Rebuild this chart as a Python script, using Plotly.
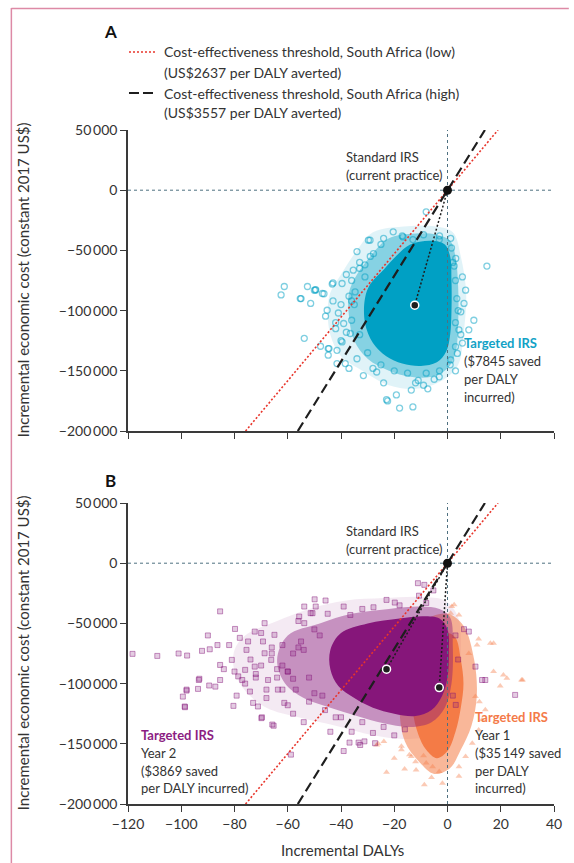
import plotly.graph_objects as go

# ---------------- data ----------------
THRESH_LOW = 2637    # US$ per DALY averted
THRESH_HIGH = 3557

x_ticks = [-120, -100, -80, -60, -40, -20, 0, 20, 40]
x_ticktext = ["−120", "−100", "−80", "−60", "−40", "−20", "0", "20", "40"]
y_ticks = [50000, 0, -50000, -100000, -150000, -200000]
y_ticktext = ["50\u2009000", "0", "−50\u2009000", "−100\u2009000", "−150\u2009000", "−200\u2009000"]

# Panel A: targeted IRS (cost in US$ thousands)
a_mean_x = [-12.3]
a_mean_y_k = [-95.5]
a_outer_x = [-28, -15, -5, 2, 5, 7, 6, 4, -2, -12, -22, -32, -40, -44, -45, -44, -40, -34]
a_outer_y_k = [-35, -30, -30, -35, -55, -85, -120, -145, -158, -165, -162, -150, -138, -120, -100, -85, -70, -50]
a_mid_x = [-22, -12, -4, 1, 3, 4, 4, 3, 0, -6, -14, -22, -30, -35, -37, -37, -34, -29]
a_mid_y_k = [-40, -36, -37, -42, -55, -80, -110, -135, -148, -155, -155, -150, -140, -125, -105, -85, -70, -55]
a_core_x = [-14, -6, -1, 1, 1.5, 1.5, 1, -0.5, -4, -10, -17, -23, -28, -31, -31, -29, -24, -19]
a_core_y_k = [-45, -42, -45, -55, -75, -100, -120, -134, -143, -146, -144, -138, -127, -110, -90, -78, -66, -54]
a_pts_x = [-8.0, -20.4, -29.7, 1.2, 14.8, -34, -52.6, -49.6, -55, -51.4, -53.8, -47, -43.3, 5.6, 6.2,
           9.9, 4.3, 1.2, -3.1, -7.4, -13, -18, -22.9, -19.2, -13.6, -31.6, -26.6, -38.4, -41.5, -44.5,
           -36.5, 5.6, 3.7, 3.1, 2.5, 6.8, 8, -16.7, -13, -3.1, -61.3, -62.5, -49.5, -55.3, -46.4,
           -43, -45.8, -47.7, -44.8, -44.8, -41.5, -22.5, -39, -39.6, -34.7, -35.4, -29.1, -27.8,
           -39.6, -45.2, -50, -33, -24, -37, 3, 5, -9, -31, -42, -36,
           -35, -37, -36, -33, -38, -30, -25, -20, -15, -8, -3, 1, 3, 3, 3.5, 3, 2, 1.5, -3, -9,
           -17, -25, -29, -33, -36, -40, -42, -40, -34, -28, -11, -5, 4, 5, -24, -31, -38, -43, -41, -12]
a_pts_y_k = [-18, -34.6, -41.5, -40, -63, -51, -80, -83, -90, -94, -123, -85.8, -78, -72, -94,
             -108, -116, -141, -155, -165, -180, -181, -174, -170, -166, -154, -151, -144, -133, -131.5,
             -119, -127, -135.6, -56.7, -63, -83, -116, -38.8, -41, -41, -80, -87, -82.5, -90, -86,
             -77, -104.6, -129.6, -131.5, -137, -144, -175, -110.7, -126, -84.5, -66.4, -41.5, -52.6,
             -77.5, -99.7, -83, -60, -160, -148, -150, -101, -162, -72, -115, -92,
             -95, -88, -108, -120, -118, -135, -145, -150, -152, -152, -150, -145, -130, -110, -90, -75, -60, -48, -38, -37,
             -38, -45, -55, -65, -75, -95, -110, -125, -140, -148, -158, -157, -100, -120, -40, -62, -70, -92, -102, -160]

# Panel B: targeted IRS year 2 (purple) and year 1 (orange)
b2_mean_x = [-22.9]
b2_mean_y_k = [-88]
b1_mean_x = [-3.1]
b1_mean_y_k = [-103.3]

b2_outer_x = [-76, -64, -52, -38, -24, -10, -1, 4, 5, 4, 1, -5, -16, -28, -42, -56, -68, -76, -80, -80]
b2_outer_y_k = [-60, -48, -38, -31, -29, -28, -31, -45, -75, -105, -125, -142, -146, -143, -135, -128, -120, -106, -90, -72]
b2_mid_x = [-60, -48, -36, -22, -10, -3, 1, 2, 1.5, -1, -6, -14, -24, -34, -44, -54, -61, -64]
b2_mid_y_k = [-60, -50, -42, -38, -36, -38, -45, -70, -100, -120, -132, -136, -133, -127, -120, -112, -100, -80]
b2_core_x = [-40, -30, -18, -9, -3, 0, 0.5, 0, -2, -6, -12, -20, -28, -35, -41, -44, -44]
b2_core_y_k = [-58, -50, -46, -44, -46, -55, -75, -95, -110, -122, -127, -125, -120, -112, -102, -88, -72]
b2_pts_x = [-118.3, -109, -101, -97.8, -92.2, -89.3, -86.4, -85.4, -99.4, -98, -98.7, -93.7, -93.2,
            -89.5, -87.2, -85.4, -85.4, -81, -79.8, -80.4, -79.2, -77.1, -76, -75.5, -74.9, -72.4,
            -74.2, -73, -69.3, -69.7, -68.7, -67.4, -65.8, -58.8, -55.7, -65, -72.4, -78.6, -71.2,
            -61.3, -63.7, -66.2, -68.7, -98.6, -98, -93.4, -69.9, -65.3, -51.4, -49.5, -39, -32.8,
            -27.2, -44, -53.8, -49.9, -45.8, -39, -36.5, -27.8, -22.9, -19.8, -11.1, -8.7, -36.8,
            -33.4, -31.2, -53.8, -50.7, -10.7, -5.3, 6.2, 8, 10.5, 25.4, 13, 3.1, 14.2, -60, -56,
            -62, -58, -54, -84, -90,
            -50, -55, -58, -60, -57, -52, -46, -40, -32, -24, -16, -62, -64, -56, -45, -32, -18, -8,
            -48, -52, -50, -66, -70, -68, -72, -60, 3, 4, 2,
            -82, -78, -74, -70, -66, -62, -76, -72, -68, -64, -80, -58, -54, -47, -42, -36, -28, -20]
b2_pts_y_k = [-75.3, -77, -75, -76.7, -72.8, -71.5, -68, -40, -110.8, -105, -119, -104.4, -96,
              -101.6, -102.5, -84.5, -97, -80.3, -54.6, -118.5, -110, -97, -88.6, -72, -65, -56.8,
              -106.6, -116, -65, -128, -49.8, -97, -134, -159, -44.3, -59.5, -85.9, -94, -119,
              -116, -105, -80.3, -74.8, -119.6, -105.8, -97, -128.7, -135, -41.5, -36, -156, -151,
              -149.5, -140, -36, -30, -31, -36, -43, -36.6, -30.5, -32.7, -16.6, -18, -149,
              -149, -148, -49.8, -41.5, -27, -22.6, -54.8, -56.8, -85.9, -109.4, -97, -117.7, -97, -90, -70,
              -105, -125, -132, -88, -60,
              -55, -65, -75, -90, -105, -115, -122, -128, -132, -136, -138, -85, -95, -48, -42, -38, -35, -33,
              -60, -95, -108, -70, -85, -105, -95, -118, -60, -80, -110,
              -68, -62, -80, -58, -75, -68, -100, -92, -112, -88, -90, -96, -72, -110, -128, -140, -141, -143]

b1_mid_x = [-10, 0, 6, 10, 11, 9, 5, 1, -5, -11, -16, -18, -16]
b1_mid_y_k = [-50, -42, -52, -80, -110, -135, -155, -170, -175, -164, -148, -120, -85]
b1_core_x = [-6, 0, 3, 5, 6, 5, 3, 0, -4, -8, -11, -13, -12]
b1_core_y_k = [-70, -58, -62, -80, -100, -120, -140, -156, -162, -155, -142, -122, -95]
b1_pts_x = [11.7, 16.1, 21, 28.2, 19.8, 17.3, 1.6, 4.3, -22.9, -8.7, -1.9, 4.3, -16.1, -26.6, -17.3,
            -13.6, -5.6, -26, -17.3, -14.3, -12, -9, -23.9, 17.3, 11.1, 27.8, 22.3, 2.5, 1.2, 14.2,
            -8, -3.1, -11.8, 4.3, 6.8, 9.3, 11.7, 13, 10.5, -20, 8, 12, -6]
b1_pts_y_k = [-63, -66.5, -92.8, -97, -101.9, -90, -36, -43, -173.6, -184, -182.7, -177, -171, -151, -152,
              -160.6, -169, -150, -155, -159, -165, -160, -148, -66.5, -67.9, -97, -95.5, -34.6, -41.5, -121.8,
              -166, -173, -171.7, -169, -160.6, -149.5, -138.5, -130, -110.8, -162, -75, -115, -178]

# ---------------- styling ----------------
FONT = "Lato, 'Open Sans', sans-serif"
TXT = "#333333"
TEAL = (0, 160, 196)
PURPLE = (134, 22, 122)
ORANGE = (244, 123, 70)
REF = "#4e7080"


def rgba(c, a):
    return f"rgba({c[0]},{c[1]},{c[2]},{a})"


def k(vals):
    return [v * 1000 for v in vals]


def px(xp):  # page pixel -> paper (x)
    return (xp - 128) / 431


def py(yp):  # page pixel -> paper (y)
    return (804 - yp) / 674


fig = go.Figure()


def poly(xs, ys_k, color, alpha, xa, ya):
    fig.add_trace(go.Scatter(x=xs + xs[:1], y=k(ys_k + ys_k[:1]), mode="lines", fill="toself",
                             fillcolor=rgba(color, alpha), line=dict(width=0), line_shape="spline",
                             hoverinfo="skip", showlegend=False, xaxis=xa, yaxis=ya))


def reference_lines(xa, ya):
    fig.add_trace(go.Scatter(x=[-120, 40], y=[0, 0], mode="lines",
                             line=dict(color=REF, width=1, dash="3px,3px"),
                             showlegend=False, xaxis=xa, yaxis=ya, hoverinfo="skip"))
    fig.add_trace(go.Scatter(x=[0, 0], y=[-200000, 50000], mode="lines",
                             line=dict(color=REF, width=1, dash="3px,3px"),
                             showlegend=False, xaxis=xa, yaxis=ya, hoverinfo="skip"))
    fig.add_trace(go.Scatter(x=[-200000 / THRESH_LOW, 50000 / THRESH_LOW], y=[-200000, 50000], mode="lines",
                             line=dict(color="#e8352b", width=1.6, dash="2px,2px"),
                             showlegend=False, xaxis=xa, yaxis=ya, hoverinfo="skip"))
    fig.add_trace(go.Scatter(x=[-200000 / THRESH_HIGH, 50000 / THRESH_HIGH], y=[-200000, 50000], mode="lines",
                             line=dict(color="#1e1e1e", width=2.2, dash="10px,5px"),
                             showlegend=False, xaxis=xa, yaxis=ya, hoverinfo="skip"))


def mean_point(mx, my_k, xa, ya):
    fig.add_trace(go.Scatter(x=[0] + mx, y=[0] + k(my_k), mode="lines",
                             line=dict(color="#1e1e1e", width=1.5, dash="2px,2px"),
                             showlegend=False, xaxis=xa, yaxis=ya, hoverinfo="skip"))
    fig.add_trace(go.Scatter(x=mx, y=k(my_k), mode="markers",
                             marker=dict(size=8, color="#1e1e1e", line=dict(color="white", width=1.5)),
                             showlegend=False, xaxis=xa, yaxis=ya))


def origin(xa, ya):
    fig.add_trace(go.Scatter(x=[0], y=[0], mode="markers", marker=dict(size=9, color="#111111"),
                             showlegend=False, xaxis=xa, yaxis=ya, cliponaxis=False))


# ---- Panel A ----
poly(a_outer_x, a_outer_y_k, TEAL, 0.12, "x", "y")
poly(a_mid_x, a_mid_y_k, TEAL, 0.4, "x", "y")
poly(a_core_x, a_core_y_k, TEAL, 1.0, "x", "y")
fig.add_trace(go.Scatter(x=a_pts_x, y=k(a_pts_y_k), mode="markers",
                         marker=dict(symbol="circle-open", size=6, color=rgba(TEAL, 0.5), line=dict(width=1.3)),
                         showlegend=False, xaxis="x", yaxis="y"))
reference_lines("x", "y")
mean_point(a_mean_x, a_mean_y_k, "x", "y")
origin("x", "y")

# ---- Panel B ----
poly(b2_outer_x, b2_outer_y_k, PURPLE, 0.09, "x2", "y2")
poly(b1_mid_x, b1_mid_y_k, ORANGE, 0.55, "x2", "y2")
poly(b1_core_x, b1_core_y_k, ORANGE, 1.0, "x2", "y2")
fig.add_trace(go.Scatter(x=b1_pts_x, y=k(b1_pts_y_k), mode="markers",
                         marker=dict(symbol="triangle-up", size=6, color=rgba(ORANGE, 0.4)),
                         showlegend=False, xaxis="x2", yaxis="y2"))
poly(b2_mid_x, b2_mid_y_k, PURPLE, 0.42, "x2", "y2")
poly(b2_core_x, b2_core_y_k, PURPLE, 1.0, "x2", "y2")
fig.add_trace(go.Scatter(x=b2_pts_x, y=k(b2_pts_y_k), mode="markers",
                         marker=dict(symbol="square", size=5, color=rgba(PURPLE, 0.22),
                                     line=dict(color=rgba(PURPLE, 0.45), width=1)),
                         showlegend=False, xaxis="x2", yaxis="y2"))
reference_lines("x2", "y2")
mean_point(b2_mean_x, b2_mean_y_k, "x2", "y2")
mean_point(b1_mean_x, b1_mean_y_k, "x2", "y2")
origin("x2", "y2")

axis_common = dict(showgrid=False, zeroline=False, showline=True, linecolor="#3a3a3a", linewidth=1.5,
                   ticks="outside", ticklen=6, tickwidth=1.3, tickcolor="#3a3a3a",
                   tickfont=dict(family=FONT, size=14, color=TXT))

fig.update_layout(
    width=574, height=863,
    margin=dict(l=128, r=15, t=130, b=59),
    paper_bgcolor="white", plot_bgcolor="white",
    font=dict(family=FONT, color=TXT),
    showlegend=False,
    hovermode=False,
    xaxis=dict(domain=[0, 1], range=[-120, 40], anchor="y", tickvals=x_ticks, showticklabels=False, **axis_common),
    yaxis=dict(domain=[py(431), 1], range=[-200000, 50000], anchor="x", tickvals=y_ticks, ticktext=y_ticktext, **axis_common),
    xaxis2=dict(domain=[0, 1], range=[-120, 40], anchor="y2", tickvals=x_ticks, ticktext=x_ticktext, **axis_common),
    yaxis2=dict(domain=[0, py(503)], range=[-200000, 50000], anchor="x2", tickvals=y_ticks, ticktext=y_ticktext, **axis_common),
)

ann = []


def text(xp, yp, s, size=13, color=TXT, bold=False, xanchor="left", angle=0):
    if bold:
        s = f"<b>{s}</b>"
    ann.append(dict(x=px(xp), y=py(yp), xref="paper", yref="paper", text=s, showarrow=False,
                    xanchor=xanchor, yanchor="middle", textangle=angle,
                    font=dict(family=FONT, size=size, color=color)))


# panel letters
text(110, 31, "A", size=17, color="#111", bold=True, xanchor="center")
text(110, 481, "B", size=17, color="#111", bold=True, xanchor="center")

# legend
text(162, 52, "Cost-effectiveness threshold, South Africa (low)", size=14)
text(162, 72, "(US$2637 per DALY averted)", size=14)
text(162, 93, "Cost-effectiveness threshold, South Africa (high)", size=14)
text(162, 113, "(US$3557 per DALY averted)", size=14)

# axis titles
text(22, 280, "Incremental economic cost (constant 2017 US$)", size=15, xanchor="center", angle=-90)
text(22, 653, "Incremental economic cost (constant 2017 US$)", size=15, xanchor="center", angle=-90)
text(345, 850, "Incremental DALYs", size=15, xanchor="center")

# panel A notes
text(347, 157, "Standard IRS", size=13)
text(347, 175, "(current practice)", size=13)
text(466, 343, "Targeted IRS", size=13, color="#12a2c6", bold=True)
text(466, 361, "($7845 saved", size=13)
text(466, 379, "per DALY", size=13)
text(466, 397, "incurred)", size=13)

# panel B notes
text(347, 531, "Standard IRS", size=13)
text(347, 549, "(current practice)", size=13)
text(139, 735, "Targeted IRS", size=13, color="#8c1d82", bold=True)
text(139, 753, "Year 2", size=13)
text(139, 771, "($3869 saved", size=13)
text(139, 788, "per DALY incurred)", size=13)
text(477, 717, "Targeted IRS", size=13, color="#f47a48", bold=True)
text(477, 735, "Year 1", size=13)
text(477, 753, "($35\u2009149 saved", size=13)
text(477, 771, "per DALY", size=13)
text(477, 788, "incurred)", size=13)

fig.update_layout(annotations=ann)

shapes = [
    # legend samples
    dict(type="line", xref="paper", yref="paper", x0=px(129), x1=px(156), y0=py(52), y1=py(52),
         line=dict(color="#e8352b", width=1.6, dash="2px,2px")),
    dict(type="line", xref="paper", yref="paper", x0=px(129), x1=px(156), y0=py(93), y1=py(93),
         line=dict(color="#1e1e1e", width=2.2, dash="10px,4px")),
    # outer frame
    dict(type="line", xref="paper", yref="paper", x0=px(10), x1=px(10), y0=py(8), y1=py(863),
         line=dict(color="#dd8aa6", width=1.5)),
    dict(type="line", xref="paper", yref="paper", x0=px(10), x1=px(574), y0=py(8.5), y1=py(8.5),
         line=dict(color="#dd8aa6", width=1.5)),
]
fig.update_layout(shapes=shapes)

# remove the default page margin so the 574x863 figure fills the window exactly
fig.write_html("out.html",
               config={"displayModeBar": False},
               post_script="document.body.style.margin='0';"
                           "document.documentElement.style.overflow='hidden';"
                           "document.body.style.overflow='hidden';")
